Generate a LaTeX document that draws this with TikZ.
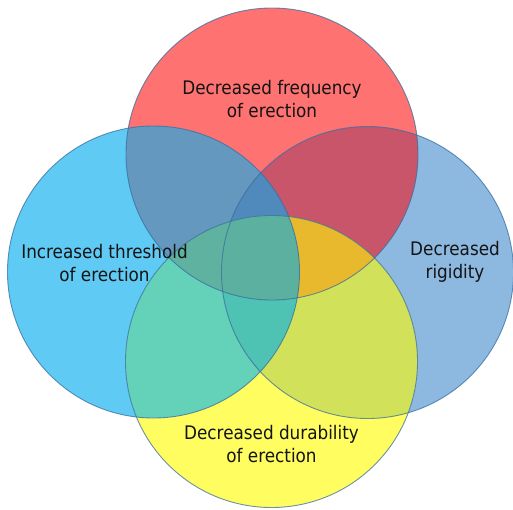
\documentclass[tikz,border=0pt]{standalone}
\usepackage{fontspec}
\setmainfont{DejaVu Sans Condensed}
\definecolor{cR}{RGB}{255,114,114}
\definecolor{cL}{RGB}{95,203,245}
\definecolor{cB}{RGB}{141,185,225}
\definecolor{cY}{RGB}{255,253,95}
\definecolor{cRL}{RGB}{100,152,190}
\definecolor{cRB}{RGB}{200,85,105}
\definecolor{cLY}{RGB}{100,210,185}
\definecolor{cBY}{RGB}{210,225,90}
\definecolor{cLB}{RGB}{80,140,190}
\definecolor{cRLB}{RGB}{80,138,188}
\definecolor{cRLY}{RGB}{95,178,160}
\definecolor{cRBY}{RGB}{232,185,45}
\definecolor{cLBY}{RGB}{78,195,180}
\definecolor{cRLBY}{RGB}{92,176,160}
\definecolor{edge}{RGB}{55,110,160}
\definecolor{txt}{RGB}{20,20,20}
\begin{document}
\begin{tikzpicture}[x=1pt,y=1pt,
  lbl/.style={text=txt,align=center,font=\fontsize{18.7}{23}\selectfont},
  ring/.style={draw=edge,draw opacity=0.75,line width=0.9pt}]
\useasboundingbox (0,0) rectangle (513,509);
\def\rad{146}
\coordinate (cr) at (272,355);
\coordinate (cl) at (153.5,237);
\coordinate (cb) at (367.5,236.5);
\coordinate (cy) at (271.5,147.5);
\def\R{(cr) circle (\rad)}
\def\L{(cl) circle (\rad)}
\def\B{(cb) circle (\rad)}
\def\Y{(cy) circle (\rad)}
% singles
\fill[cR] \R; \fill[cL] \L; \fill[cB] \B; \fill[cY] \Y;
% pairs
\begin{scope}\clip \R; \fill[cRL] \L; \fill[cRB] \B; \fill[cRBY] \Y; \end{scope}
\begin{scope}\clip \L; \fill[cLY] \Y; \fill[cLB] \B; \end{scope}
\begin{scope}\clip \B; \fill[cBY] \Y; \end{scope}
% triples
\begin{scope}\clip \R; \clip \L; \fill[cRLB] \B; \fill[cRLY] \Y; \end{scope}
\begin{scope}\clip \R; \clip \B; \fill[cRBY] \Y; \end{scope}
\begin{scope}\clip \L; \clip \B; \fill[cLBY] \Y; \end{scope}
% all four
\begin{scope}\clip \R; \clip \L; \clip \B; \fill[cRLBY] \Y; \end{scope}
% outlines
\draw[ring] \R; \draw[ring] \L; \draw[ring] \B; \draw[ring] \Y;
\node[lbl] (tR) at (272,410) {Decreased frequency\\of erection};
\node[lbl] (tL) at (104.5,246) {Increased threshold\\of erection};
\node[lbl] (tB) at (455,247) {Decreased\\rigidity};
\node[lbl] (tY) at (271.5,65) {Decreased durability\\of erection};
\end{tikzpicture}
\end{document}
